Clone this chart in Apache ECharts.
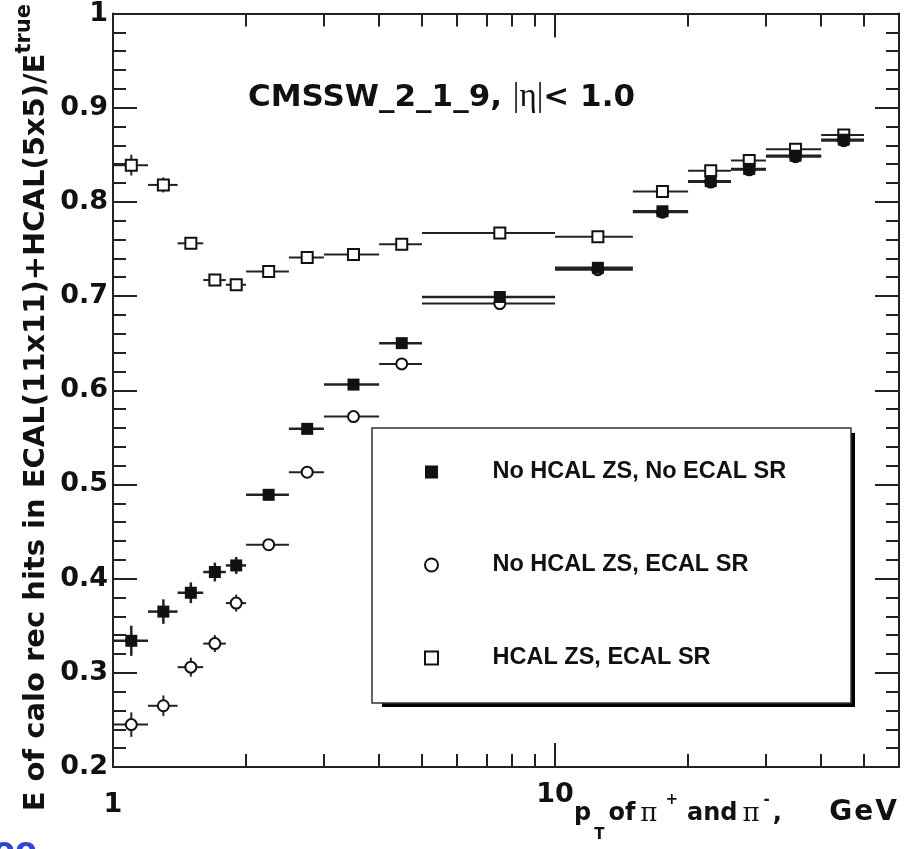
<!DOCTYPE html>
<html>
<head>
<meta charset="utf-8">
<script src="https://cdn.jsdelivr.net/npm/echarts@6/dist/echarts.min.js"></script>
<style>
  html, body { margin: 0; padding: 0; background: #fff; }
  #chart { width: 905px; height: 849px; }
</style>
</head>
<body>
<div id="chart"></div>
<script>
// pT bins (GeV): centres and edges
const xCenter = [1.1, 1.3, 1.5, 1.7, 1.9, 2.25, 2.75, 3.5, 4.5, 7.5, 12.5, 17.5, 22.5, 27.5, 35, 45];
const xLow    = [1.0, 1.2, 1.4, 1.6, 1.8, 2.0, 2.5, 3.0, 4.0, 5, 10, 15, 20, 25, 30, 40];
const xHigh   = [1.2, 1.4, 1.6, 1.8, 2.0, 2.5, 3.0, 4.0, 5, 10, 15, 20, 25, 30, 40, 50];

// E(ECAL 11x11 + HCAL 5x5) / E_true for each configuration
const noZsNoSr    = [0.334, 0.365, 0.385, 0.407, 0.414, 0.489, 0.559, 0.606, 0.650, 0.699, 0.730, 0.790, 0.822, 0.835, 0.849, 0.866];
const noZsNoSrErr = [0.016, 0.013, 0.011, 0.010, 0.009, 0.005, 0.004, 0.004, 0.004, 0.003, 0.003, 0.003, 0.003, 0.003, 0.003, 0.003];
const noZsSr      = [0.245, 0.265, 0.306, 0.331, 0.374, 0.436, 0.513, 0.572, 0.628, 0.692, 0.728, 0.789, 0.821, 0.834, 0.848, 0.865];
const noZsSrErr   = [0.013, 0.011, 0.010, 0.009, 0.009, 0.005, 0.004, 0.004, 0.004, 0.003, 0.003, 0.003, 0.003, 0.003, 0.003, 0.003];
const zsSr        = [0.839, 0.818, 0.756, 0.717, 0.712, 0.726, 0.741, 0.744, 0.755, 0.767, 0.763, 0.811, 0.833, 0.844, 0.856, 0.871];
const zsSrErr     = [0.011, 0.008, 0.005, 0.005, 0.005, 0.004, 0.004, 0.004, 0.004, 0.003, 0.003, 0.003, 0.003, 0.003, 0.003, 0.003];

const seriesNames = ['No HCAL ZS, No ECAL SR', 'No HCAL ZS, ECAL SR', 'HCAL ZS, ECAL SR'];

// axis ticks
const xMajorTicks = [1, 10];
const xMinorTicks = [2, 3, 4, 5, 6, 7, 8, 9, 20, 30, 40, 50];
const xLabelsA = [1];
const xLabelsB = [10];

const INK = '#222';
const AXIS_FONT = '"DejaVu Sans", sans-serif';

function xAxisDef(position, ticks, len, labels, margin, showLine) {
  return {
    type: 'log', logBase: 10, min: 1, max: 60, position: position, gridIndex: 0,
    axisLine: { show: showLine, onZero: false, lineStyle: { color: INK, width: 2 } },
    axisTick: { show: true, inside: true, length: len, customValues: ticks, lineStyle: { color: INK, width: 2 } },
    axisLabel: labels ? {
      show: true, customValues: labels, margin: margin,
      formatter: function (v) { return String(Math.round(v)); },
      fontFamily: AXIS_FONT, fontWeight: 'bold', fontSize: 27, color: '#111'
    } : { show: false },
    splitLine: { show: false }, minorTick: { show: false }, minorSplitLine: { show: false }
  };
}

function yAxisDef(position, showLabels) {
  return {
    type: 'value', min: 0.2, max: 1.0, interval: 0.1, position: position, gridIndex: 0,
    axisLine: { show: true, onZero: false, lineStyle: { color: INK, width: 2 } },
    axisTick: { show: true, inside: true, length: 24, lineStyle: { color: INK, width: 2 } },
    minorTick: { show: true, splitNumber: 5, length: 13, lineStyle: { color: INK, width: 2 } },
    axisLabel: showLabels ? {
      show: true, margin: 5, padding: [8, 0, 0, 0],
      formatter: function (v) { return Math.abs(v - 1) < 1e-9 ? '1' : v.toFixed(1); },
      fontFamily: AXIS_FONT, fontWeight: 'bold', fontSize: 27, color: '#111'
    } : { show: false },
    splitLine: { show: false }, minorSplitLine: { show: false }
  };
}

// horizontal (bin width) and vertical (statistical) error bars
function errorBars(ys, errs, lw) {
  const data = xCenter.map(function (x, i) { return [x, ys[i], xLow[i], xHigh[i], errs[i]]; });
  return {
    type: 'custom', xAxisIndex: 0, yAxisIndex: 0, z: 2, silent: true,
    encode: { x: [0, 2, 3], y: 1 },
    data: data,
    renderItem: function (params, api) {
      const x = api.value(0), y = api.value(1), lo = api.value(2), hi = api.value(3), e = api.value(4);
      const a = api.coord([lo, y]), b = api.coord([hi, y]);
      const c = api.coord([x, y - e]), d = api.coord([x, y + e]);
      const st = { stroke: INK, lineWidth: lw };
      return {
        type: 'group',
        children: [
          { type: 'line', shape: { x1: a[0], y1: a[1], x2: b[0], y2: b[1] }, style: st },
          { type: 'line', shape: { x1: c[0], y1: c[1], x2: d[0], y2: d[1] }, style: st }
        ]
      };
    }
  };
}

function points(name, ys, symbol, size, itemStyle, z) {
  return {
    name: name, type: 'scatter', xAxisIndex: 0, yAxisIndex: 0, z: z,
    symbol: symbol, symbolSize: size, itemStyle: itemStyle,
    data: xCenter.map(function (x, i) { return [x, ys[i]]; })
  };
}

const titleRich = {
  m: { fontFamily: AXIS_FONT, fontWeight: 'bold', fontSize: 24, fill: '#111' },
  sub: { fontFamily: AXIS_FONT, fontWeight: 'bold', fontSize: 15, fill: '#111', padding: [42, 0, 0, 3] },
  of: { fontFamily: AXIS_FONT, fontWeight: 'bold', fontSize: 24, fill: '#111', padding: [0, 0, 0, 4] },
  pi: { fontFamily: '"DejaVu Serif", serif', fontSize: 26, fill: '#111', padding: [0, 0, 0, 5] },
  supP: { fontFamily: AXIS_FONT, fontWeight: 'bold', fontSize: 15, fill: '#111', padding: [0, 0, 28, 8] },
  supM: { fontFamily: AXIS_FONT, fontWeight: 'bold', fontSize: 15, fill: '#111', padding: [0, 0, 28, 4] },
  and: { fontFamily: AXIS_FONT, fontWeight: 'bold', fontSize: 24, fill: '#111', padding: [0, 0, 0, 9] },
  cm: { fontFamily: AXIS_FONT, fontWeight: 'bold', fontSize: 24, fill: '#111', padding: [0, 0, 0, 3] },
  g: { fontFamily: AXIS_FONT, fontWeight: 'bold', fontSize: 28, fill: '#111', padding: [0, 0, 0, 0] },
  gs: { fontFamily: AXIS_FONT, fontWeight: 'bold', fontSize: 28, fill: '#111', padding: [0, 0, 0, 2] }
};

const chart = echarts.init(document.getElementById('chart'), null, { renderer: 'canvas' });

const option = {
  animation: false,
  backgroundColor: '#fff',
  grid: { left: 113, top: 13, width: 786, height: 754 },
  xAxis: [
    xAxisDef('bottom', xMajorTicks, 24, xLabelsA, 24, true),
    xAxisDef('bottom', xMinorTicks, 13, xLabelsB, 14, false),
    xAxisDef('top', xMajorTicks, 24, null, 0, true),
    xAxisDef('top', xMinorTicks, 13, null, 0, false)
  ],
  yAxis: [yAxisDef('left', true), yAxisDef('right', false)],
  legend: {
    orient: 'vertical', left: 424, top: 460, padding: 0, z: 10,
    itemWidth: 13, itemHeight: 13, itemGap: 69,
    selectedMode: false,
    data: [seriesNames[0], seriesNames[1], seriesNames[2]],
    formatter: function (name) { return '{t|' + name + '}'; },
    textStyle: {
      fontFamily: '"Liberation Sans", Arial, sans-serif', fontWeight: 'bold', fontSize: 23.5, color: '#111',
      rich: { t: { fontFamily: '"Liberation Sans", Arial, sans-serif', fontWeight: 'bold', fontSize: 23.5, color: '#111', padding: [0, 0, 0, 49.5] } }
    }
  },
  graphic: [
    // legend frame with drop shadow
    { type: 'rect', z: 1, shape: { x: 382, y: 433, width: 473, height: 274 }, style: { fill: '#000' } },
    { type: 'rect', z: 1, shape: { x: 372, y: 428, width: 479, height: 275 }, style: { fill: '#fff', stroke: '#333', lineWidth: 1.5 } },
    // title
    {
      type: 'text', z: 5, x: 248, y: 97.5,
      style: {
        text: '{b|CMSSW_2_1_9, }{s||η|}{b|< 1.0}', verticalAlign: 'middle', align: 'left',
        rich: {
          b: { fontFamily: AXIS_FONT, fontWeight: 'bold', fontSize: 31, fill: '#111' },
          s: { fontFamily: '"Liberation Serif", serif', fontSize: 33, fill: '#111' }
        }
      }
    },
    // x-axis title
    {
      type: 'text', z: 5, x: 574, y: 814,
      style: {
        text: '{m|p}{sub|T}{of|of}{pi|π}{supP|+}{and|and}{pi|π}{supM|-}{cm|,}',
        align: 'left', verticalAlign: 'middle', rich: titleRich
      }
    },
    {
      type: 'text', z: 5, x: 897, y: 813,
      style: { text: '{g|G}{gs|e}{gs|V}', align: 'right', verticalAlign: 'middle', rich: titleRich }
    },
    // y-axis title (reads bottom to top)
    {
      type: 'text', z: 5, x: 36, y: 4, rotation: Math.PI / 2,
      style: {
        text: '{m|E of calo rec hits in ECAL(11x11)+HCAL(5x5)/E}{s|true}',
        align: 'right', verticalAlign: 'middle',
        rich: {
          m: { fontFamily: AXIS_FONT, fontWeight: 'bold', fontSize: 29, fill: '#111' },
          s: { fontFamily: AXIS_FONT, fontWeight: 'bold', fontSize: 21, fill: '#111', padding: [0, 0, 23, 0] }
        }
      }
    },
    // blue lettering at the lower edge
    {
      type: 'text', z: 5, x: -7, y: 852,
      style: { text: 'oo', font: 'bold 32px "DejaVu Sans"', fill: '#2f45d3', verticalAlign: 'middle', align: 'left' }
    }
  ],
  series: [
    errorBars(noZsSr, noZsSrErr, 2),
    errorBars(zsSr, zsSrErr, 2),
    errorBars(noZsNoSr, noZsNoSrErr, 2.5),
    points(seriesNames[1], noZsSr, 'circle', 11, { color: '#fff', borderColor: '#111', borderWidth: 2, opacity: 1 }, 3),
    points(seriesNames[2], zsSr, 'rect', 11, { color: '#fff', borderColor: '#111', borderWidth: 2, opacity: 1 }, 3),
    points(seriesNames[0], noZsNoSr, 'rect', 12, { color: '#111', opacity: 1 }, 4)
  ]
};

chart.setOption(option);
</script>
</body>
</html>
